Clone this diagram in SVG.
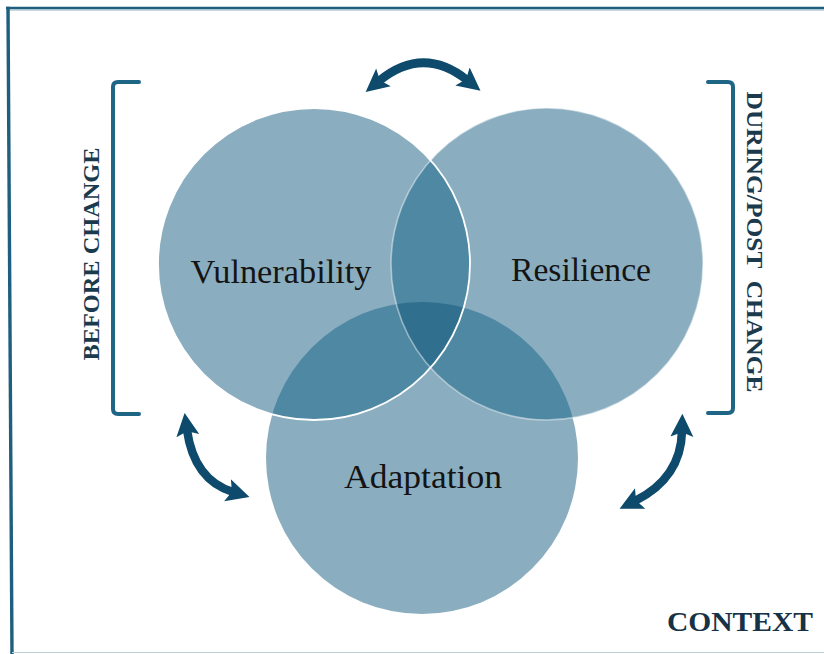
<svg xmlns="http://www.w3.org/2000/svg" width="824" height="654" viewBox="0 0 824 654">
  <style>
    .disc { fill: #8aaec0; }
    .pair { fill: #4f88a3; }
    .triple { fill: #306f8d; }
    .label { font-family: "Liberation Serif", "Times New Roman", serif; font-size: 34px; fill: #141414; text-anchor: middle; }
    .side { font-family: "Liberation Serif", "Times New Roman", serif; font-size: 24px; font-weight: bold; fill: #1b3a4d; text-anchor: middle; white-space: pre; }
    .context { font-family: "Liberation Serif", "Times New Roman", serif; font-size: 28px; font-weight: bold; fill: #163246; }
    .bracket { fill: none; stroke: #1f6586; stroke-width: 4; stroke-linecap: round; stroke-linejoin: round; }
    .cycle { fill: none; stroke: #0d4a6b; stroke-width: 8.5; }
  </style>
  <defs>
    <clipPath id="clipV"><circle cx="314" cy="264" r="156"/></clipPath>
    <clipPath id="clipR"><circle cx="547" cy="264" r="156"/></clipPath>
    <marker id="head" viewBox="0 0 20 20" refX="5" refY="10" markerUnits="userSpaceOnUse" markerWidth="23" markerHeight="25" orient="auto-start-reverse">
      <path d="M0,0 L20,10 L0,20 L4,10 z" fill="#0d4a6b"/>
    </marker>
  </defs>

  <rect width="824" height="654" fill="#ffffff"/>

  <!-- frame -->
  <g id="frame">
    <line x1="6" y1="8" x2="824" y2="8" stroke="#1e5f7e" stroke-width="2.6"/>
    <line x1="9" y1="10" x2="824" y2="10" stroke="#8fb0c0" stroke-width="1"/>
    <line x1="8" y1="6.7" x2="12" y2="654" stroke="#1e5f7e" stroke-width="3.4"/>
    <line x1="12" y1="652.5" x2="824" y2="652.5" stroke="#bccfd9" stroke-width="1.2"/>
  </g>

  <!-- the three circles -->
  <g id="node-vulnerability">
    <circle class="disc" cx="314" cy="264" r="156"/>
  </g>
  <g id="node-resilience">
    <circle class="disc" cx="547" cy="264" r="156"/>
  </g>
  <g id="node-adaptation">
    <circle class="disc" cx="422" cy="458" r="156"/>
  </g>

  <!-- overlap shading and circle outlines -->
  <g id="overlaps">
    <g clip-path="url(#clipV)">
      <circle class="pair" cx="547" cy="264" r="156"/>
      <circle class="pair" cx="422" cy="458" r="156"/>
    </g>
    <g clip-path="url(#clipR)">
      <circle class="pair" cx="422" cy="458" r="156"/>
    </g>
    <g clip-path="url(#clipV)">
      <g clip-path="url(#clipR)">
        <circle class="triple" cx="422" cy="458" r="156"/>
      </g>
    </g>
    <circle cx="547" cy="264" r="156" fill="none" stroke="#ffffff" stroke-opacity="0.45" stroke-width="1.6"/>
    <circle cx="314" cy="264" r="156" fill="none" stroke="#ffffff" stroke-width="1.8"/>
  </g>

  <!-- circle labels -->
  <g id="labels">
    <text class="label" x="281" y="283" textLength="181" lengthAdjust="spacingAndGlyphs">Vulnerability</text>
    <text class="label" x="581" y="281" textLength="140" lengthAdjust="spacingAndGlyphs">Resilience</text>
    <text class="label" x="423" y="488" textLength="158" lengthAdjust="spacingAndGlyphs">Adaptation</text>
  </g>

  <!-- phase brackets -->
  <g id="bracket-before">
    <path class="bracket" d="M139,82 L118,82 Q113,82 113,87 L113,409 Q113,414 118,414 L139,414"/>
    <text class="side" transform="translate(98.5,254) rotate(-90)" textLength="213" lengthAdjust="spacingAndGlyphs">BEFORE CHANGE</text>
  </g>
  <g id="bracket-during">
    <path class="bracket" d="M708,82 L728,82 Q733,82 733,87 L733,408 Q733,413 728,413 L708,413"/>
    <text class="side" transform="translate(747,242) rotate(90)" textLength="301" lengthAdjust="spacingAndGlyphs">DURING/POST  CHANGE</text>
  </g>

  <!-- two-way cycle arrows -->
  <g id="connectors">
    <path class="cycle" d="M379,81 Q423,45 467,80" marker-start="url(#head)" marker-end="url(#head)"/>
    <path class="cycle" d="M187,430 Q194,480 233,492" marker-start="url(#head)" marker-end="url(#head)"/>
    <path class="cycle" d="M682,431 Q681,478 635,501" marker-start="url(#head)" marker-end="url(#head)"/>
  </g>

  <text class="context" x="667" y="631" textLength="146" lengthAdjust="spacingAndGlyphs">CONTEXT</text>
</svg>
